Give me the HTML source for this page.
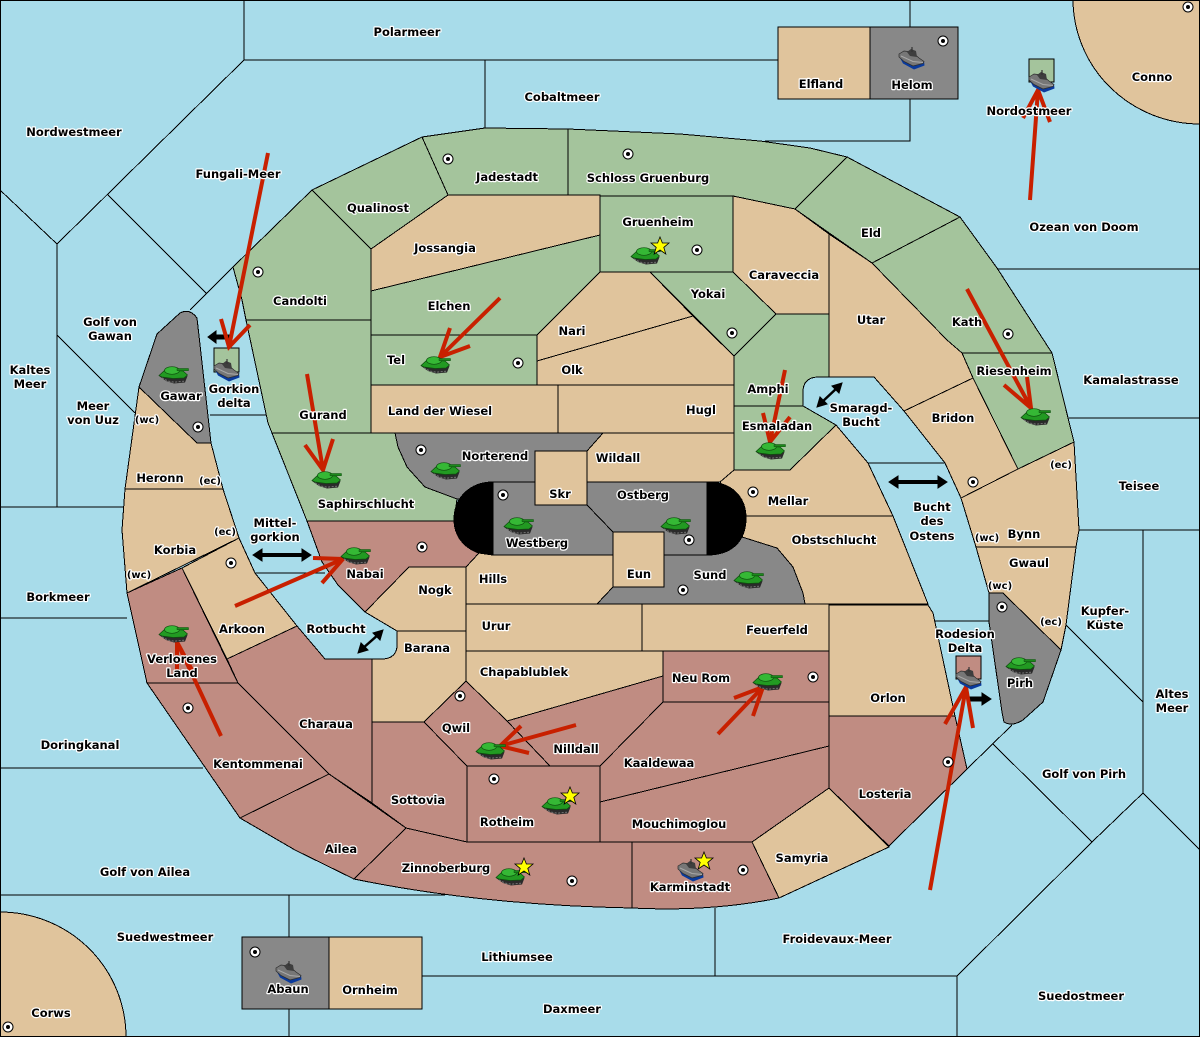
<!DOCTYPE html>
<html><head><meta charset="utf-8"><title>Map</title>
<style>
html,body{margin:0;padding:0;background:#a8dcea}
svg{display:block}
.l polygon,.l path{stroke:#000;stroke-width:1;stroke-linejoin:miter;shape-rendering:crispEdges}
.t{fill:#e0c49c}.g{fill:#a4c49c}.r{fill:#c08c82}.y{fill:#888}
.o line,.o polyline,.o path{stroke:#000;stroke-width:1;fill:none}
.a path{fill:none;stroke:#c82000;stroke-width:4}
text{font-family:"DejaVu Sans","Liberation Sans",sans-serif;font-weight:bold;font-size:11.5px;text-anchor:middle;fill:#000;stroke:#fff;stroke-width:2.4px;paint-order:stroke;stroke-linejoin:round}
.s{font-size:10px}
</style></head><body>
<svg xmlns="http://www.w3.org/2000/svg" width="1200" height="1037" viewBox="0 0 1200 1037">
<defs>
<g id="d"><circle r="5" fill="#fff" stroke="#000" stroke-width="1"/><circle r="2" fill="#000"/></g>
<g id="k">
<path d="M0 10L7 15L15 17.5L26 16.5L28.5 10L22 11L10 10Z" fill="#2a2a2a"/>
<path d="M0 9.5L6 4L24 5L28.5 9L25 12L14 12.5L3 11Z" fill="#229a22" stroke="#0e4e0e" stroke-width=".7"/>
<ellipse cx="13" cy="4.5" rx="7.5" ry="3.8" fill="#35b835" stroke="#0e4e0e" stroke-width=".7"/>
<path d="M18 2.5H29.5V4.7H18Z" fill="#1c8a1c" stroke="#0e4e0e" stroke-width=".5"/>
<path d="M3 12L9 15L15 16.2L25 15.2" stroke="#777" stroke-width="1" stroke-dasharray="2 1.5" fill="none"/>
</g>
<g id="h">
<path d="M0 9L4 16.5L15 22.5L25.5 18.5L25 14L14 18L5 13Z" fill="#0a3a9c"/>
<path d="M0 7L5 4L13 5L20 11L25 14.5L24 16.5L14 19L5 14.5L0 10Z" fill="#777" stroke="#2c2c2c" stroke-width=".7"/>
<path d="M8 5L12 2L17 4L18 10L11 9Z" fill="#3e3e3e"/>
<path d="M13 0V5" stroke="#333" stroke-width="1.2" fill="none"/>
<path d="M2 9L14 14.5L24 15.5" stroke="#a8a8a8" stroke-width="1" fill="none"/>
</g>
<polygon id="st" points="0,-9 2.4,-3 9,-3 3.8,1.4 5.8,8 0,4 -5.8,8 -3.8,1.4 -9,-3 -2.4,-3" fill="#ff0" stroke="#000" stroke-width=".8"/>
</defs>
<rect width="1200" height="1037" fill="#a8dcea"/>
<g class="o" shape-rendering="crispEdges">
<path d="M244 0V60L57 244L0 190M244 60H778M485 60V128M910 0V27M910 99V141H765"/>
<path d="M57 244V507M0 507H124M0 618H127M0 768H203M0 895H445M108 195L207 294M233 267L190 310M57 335L135 413"/>
<path d="M210 415H266M255 573H325M868 463H945M935 621H990"/>
<path d="M995 269H1200M1069 418H1200M1078 530H1200M1143 530V793M1066 625L1143 702M1143 793L1200 850M1143 793L1092 842L993 744M1092 842L957 976V1037M422 976H957M715 908V976M289 895V937M289 1009V1037"/>
<path d="M1012 725L967 769"/>
</g>
<g class="l">
<path class="t" d="M1200 0H1073A127 125 0 0 0 1200 124Z"/>
<path class="t" d="M0 1037V912A126 125 0 0 1 126 1037Z"/>
<polygon class="g" points="233,267 312,190 371,249 371,320 246,320 242,300"/>
<polygon class="g" points="246,320 371,320 371,433 272,433 268,423"/>
<polygon class="g" points="312,190 422,137 448,195 371,249"/>
<polygon class="g" points="422,137 485,128 568,129 568,195 448,195"/>
<polygon class="g" points="568,129 680,134 760,141 810,148 847,157 795,209 733,196 568,196"/>
<polygon class="g" points="847,157 960,217 872,263 795,209"/>
<polygon class="g" points="960,217 997,268 1052,353 962,353 947,340 872,263"/>
<polygon class="g" points="962,353 1052,353 1074,442 1018,469 973,378"/>
<polygon class="t" points="973,378 1018,469 961,498 945,463 904,411"/>
<polygon class="t" points="829,234 872,263 947,340 962,353 973,378 904,411 874,377 829,377"/>
<polygon class="t" points="733,196 795,209 829,234 829,314 776,314 733,272"/>
<polygon class="g" points="600,196 733,196 733,272 600,272"/>
<polygon class="t" points="448,195 600,195 600,235 371,291 371,249"/>
<polygon class="g" points="371,291 600,235 600,272 537,335 371,335"/>
<polygon class="g" points="371,335 537,335 537,385 371,385"/>
<polygon class="t" points="371,385 558,385 558,433 371,433"/>
<polygon class="t" points="558,385 734,385 734,433 558,433"/>
<polygon class="t" points="537,335 600,272 650,272 693,316 537,361"/>
<polygon class="t" points="537,361 693,316 734,356 734,385 537,385"/>
<polygon class="g" points="650,272 733,272 776,314 734,356"/>
<path class="g" d="M734 356L776 314H829V377H817Q803 378 803 392V406H734Z"/>
<polygon class="g" points="734,406 803,406 836,425 790,470 734,470"/>
<polygon class="t" points="734,470 790,470 836,425 868,463 893,516 745,516 720,482"/>
<polygon class="t" points="603,433 734,433 734,470 720,482 587,482 587,451"/>
<path class="y" d="M395 433H603L587 451H535V482H495V499H457L425 487L407 467L398 447Z"/>
<polygon class="g" points="272,433 395,433 398,447 407,467 425,487 457,499 454,521 307,521"/>
<polygon class="r" points="307,521 455,521 467,537 479,553 466,567 409,567 365,612 338,585 322,562"/>
<polygon class="y" points="493,482 535,482 535,505 587,505 613,532 613,555 493,555"/>
<polygon class="y" points="587,482 707,482 707,555 664,555 664,532 613,532 587,505"/>
<polygon class="t" points="535,451 587,451 587,505 535,505"/>
<polygon class="t" points="745,516 893,516 928,604 805,604 803,593 793,567 777,548 742,537"/>
<polygon class="y" points="664,555 707,555 728,550 742,537 777,548 793,567 803,593 805,604 597,604 613,587 664,587"/>
<path d="M493 482V555C470 555 454 540 454 519C454 498 470 482 493 482Z" fill="#000"/>
<path d="M707 482V555C735 555 746 538 746 518C746 498 733 482 707 482Z" fill="#000"/>
<polygon class="t" points="613,532 664,532 664,587 613,587"/>
<polygon class="t" points="479,553 493,555 613,555 613,587 597,604 466,604 466,567"/>
<polygon class="t" points="409,567 466,567 466,631 397,631 365,612"/>
<path class="t" d="M397 631H466V681L424 722H372V659H383Q397 658 397 645Z"/>
<polygon class="t" points="466,604 642,604 642,651 466,651"/>
<polygon class="t" points="642,604 829,604 829,651 642,651"/>
<polygon class="t" points="466,651 663,651 663,676 507,721 466,681"/>
<polygon class="r" points="663,651 829,651 829,702 663,702"/>
<polygon class="r" points="507,721 663,676 663,702 600,766 550,766"/>
<polygon class="r" points="466,681 507,721 550,766 467,766 424,722"/>
<polygon class="r" points="663,702 829,702 829,746 600,802 600,766"/>
<polygon class="r" points="600,802 829,746 829,788 752,842 600,842"/>
<polygon class="r" points="467,766 600,766 600,842 467,842"/>
<polygon class="r" points="372,722 424,722 467,766 467,842 406,828 372,803"/>
<polygon class="r" points="227,659 297,626 325,659 372,659 372,803 329,774 238,683"/>
<polygon class="t" points="182,568 239,538 255,573 297,626 227,659"/>
<polygon class="t" points="125,489 223,489 239,538 127,593 122,530"/>
<polygon class="t" points="139,387 197,443 211,443 223,489 125,489"/>
<path class="y" d="M139 387L157 334L180 313Q190 308 197 318L211 443H197Z"/>
<polygon class="r" points="127,593 182,568 238,683 147,683"/>
<polygon class="r" points="147,683 238,683 329,774 240,818"/>
<polygon class="r" points="240,818 329,774 406,828 354,879 295,850"/>
<path class="r" d="M406 828L467 842H632V908Q480 905 354 879Z"/>
<path class="r" d="M632 842H752L779 898Q710 912 632 908Z"/>
<polygon class="t" points="752,842 829,788 889,847 779,898"/>
<polygon class="r" points="829,716 955,716 967,769 889,846 829,788"/>
<polygon class="t" points="829,605 928,605 933,613 955,716 829,716"/>
<polygon class="t" points="961,498 1018,469 1074,442 1079,530 1076,547 976,547"/>
<polygon class="t" points="976,547 1076,547 1066,625 1061,650 1003,593 989,593"/>
<path class="y" d="M989 593H1003L1061 650L1043 702L1023 720Q1012 727 1004 722L1002 712L989 622Z"/>
<polygon class="t" points="778,27 870,27 870,99 778,99"/>
<polygon class="y" points="870,27 958,27 958,99 870,99"/>
<polygon class="y" points="242,937 329,937 329,1009 242,1009"/>
<polygon class="t" points="329,937 422,937 422,1009 329,1009"/>
<polygon class="g" points="214,348 239,348 239,372 214,372"/>
<polygon class="g" points="1029,59 1054,59 1054,82 1029,82"/>
<polygon class="r" points="956,656 981,656 981,679 956,679"/>
</g>
<rect x=".5" y=".5" width="1199" height="1036" fill="none" stroke="#000"/>
<g fill="#000" stroke="#000">
<path d="M214 337H232" stroke-width="5"/><polygon points="208,337 216,331 216,343"/>
<path d="M260 555H304" stroke-width="4"/><polygon points="253,555 262,549 262,561"/><polygon points="311,555 302,549 302,561"/>
<path d="M896 482H940" stroke-width="4"/><polygon points="889,482 898,476 898,488"/><polygon points="947,482 938,476 938,488"/>
<path d="M967 699H984" stroke-width="5"/><polygon points="991,699 982,693 982,705"/>
<path d="M362 649L379 634" stroke-width="2.5"/><polygon points="358,653 361,643 368,650"/><polygon points="383,630 380,640 373,633"/>
<path d="M821 403L838 387" stroke-width="2.5"/><polygon points="817,407 820,397 827,404"/><polygon points="842,383 839,393 832,386"/>
</g>
<g class="a">
<path d="M268 153L229 347M221 319L229 347L250 325"/>
<path d="M500 298L440 357M450 328L440 357L470 346"/>
<path d="M307 374L323 470M305 445L323 470L333 439"/>
<path d="M785 370L770 442M763 413L770 442L790 417"/>
<path d="M967 289L1031 408M1004 385L1031 408L1027 377"/>
<path d="M1030 200L1038 90M1023 118L1038 90L1050 122"/>
<path d="M235 606L343 559M313 558L343 559L322 583"/>
<path d="M221 736L177 642M177 670L177 642L192 670"/>
<path d="M576 725L500 746M521 726L500 746L529 753"/>
<path d="M718 734L763 687M734 698L763 687L753 716"/>
<path d="M930 890L966 687M945 724L966 687L973 728"/>
</g>
<g>
<use href="#k" x="159" y="366"/><use href="#k" x="312" y="471"/><use href="#k" x="421" y="356"/><use href="#k" x="431" y="462"/><use href="#k" x="504" y="517"/><use href="#k" x="661" y="517"/><use href="#k" x="734" y="571"/><use href="#k" x="631" y="247"/><use href="#k" x="756" y="442"/><use href="#k" x="1021" y="408"/><use href="#k" x="1006" y="657"/><use href="#k" x="753" y="673"/><use href="#k" x="476" y="742"/><use href="#k" x="542" y="797"/><use href="#k" x="496" y="868"/><use href="#k" x="341" y="547"/><use href="#k" x="159" y="625"/>
<use href="#h" x="899" y="47"/><use href="#h" x="1029" y="70"/><use href="#h" x="214" y="359"/><use href="#h" x="956" y="667"/><use href="#h" x="276" y="961"/><use href="#h" x="678" y="859"/>
<use href="#st" x="660" y="246"/><use href="#st" x="570" y="796"/><use href="#st" x="524" y="867"/><use href="#st" x="704" y="861"/>
<use href="#d" x="448" y="159"/><use href="#d" x="628" y="154"/><use href="#d" x="258" y="272"/><use href="#d" x="697" y="250"/><use href="#d" x="732" y="333"/><use href="#d" x="518" y="363"/><use href="#d" x="1008" y="334"/><use href="#d" x="973" y="482"/><use href="#d" x="421" y="450"/><use href="#d" x="503" y="495"/><use href="#d" x="753" y="492"/><use href="#d" x="689" y="540"/><use href="#d" x="683" y="590"/><use href="#d" x="422" y="547"/><use href="#d" x="231" y="563"/><use href="#d" x="198" y="427"/><use href="#d" x="188" y="708"/><use href="#d" x="460" y="696"/><use href="#d" x="813" y="677"/><use href="#d" x="494" y="779"/><use href="#d" x="572" y="881"/><use href="#d" x="743" y="870"/><use href="#d" x="1002" y="607"/><use href="#d" x="948" y="762"/><use href="#d" x="255" y="952"/><use href="#d" x="8" y="1027"/><use href="#d" x="943" y="41"/><use href="#d" x="1188" y="7"/>
</g>
<g>
<text x="407" y="36">Polarmeer</text><text x="562" y="101">Cobaltmeer</text><text x="74" y="136">Nordwestmeer</text><text x="238" y="178">Fungali-Meer</text><text x="378" y="212">Qualinost</text><text x="507" y="181">Jadestadt</text><text x="648" y="182">Schloss Gruenburg</text><text x="658" y="226">Gruenheim</text><text x="821" y="88">Elfland</text><text x="912" y="89">Helom</text><text x="1152" y="81">Conno</text><text x="1029" y="115">Nordostmeer</text><text x="1084" y="231">Ozean von Doom</text><text x="871" y="237">Eld</text><text x="784" y="279">Caraveccia</text><text x="445" y="252">Jossangia</text><text x="708" y="298">Yokai</text><text x="300" y="305">Candolti</text><text x="449" y="310">Elchen</text><text x="572" y="335">Nari</text><text x="871" y="324">Utar</text><text x="967" y="326">Kath</text>
<text x="110" y="326">Golf von</text><text x="110" y="340">Gawan</text><text x="30" y="374">Kaltes</text><text x="30" y="388">Meer</text><text x="396" y="364">Tel</text><text x="572" y="374">Olk</text><text x="768" y="393">Amphi</text><text x="1014" y="375">Riesenheim</text><text x="1131" y="384">Kamalastrasse</text><text x="93" y="410">Meer</text><text x="93" y="424">von Uuz</text><text x="234" y="393">Gorkion</text><text x="234" y="407">delta</text><text x="181" y="400">Gawar</text><text class="s" x="147" y="423">(wc)</text><text x="440" y="415">Land der Wiesel</text><text x="701" y="414">Hugl</text><text x="323" y="419">Gurand</text><text x="861" y="412">Smaragd-</text><text x="861" y="426">Bucht</text><text x="953" y="422">Bridon</text><text x="777" y="430">Esmaladan</text><text x="1139" y="490">Teisee</text><text x="495" y="460">Norterend</text><text x="618" y="462">Wildall</text><text class="s" x="1061" y="468">(ec)</text><text x="160" y="482">Heronn</text><text class="s" x="210" y="484">(ec)</text><text x="932" y="511">Bucht</text><text x="932" y="525">des</text><text x="932" y="540">Ostens</text><text x="560" y="498">Skr</text><text x="643" y="499">Ostberg</text><text x="788" y="505">Mellar</text><text x="366" y="508">Saphirschlucht</text><text x="275" y="527">Mittel-</text><text x="275" y="541">gorkion</text><text x="175" y="554">Korbia</text><text class="s" x="225" y="535">(ec)</text><text x="537" y="547">Westberg</text><text x="834" y="544">Obstschlucht</text><text x="1024" y="538">Bynn</text><text class="s" x="987" y="541">(wc)</text><text x="1029" y="567">Gwaul</text><text x="493" y="583">Hills</text><text x="639" y="578">Eun</text><text x="710" y="579">Sund</text><text x="365" y="578">Nabai</text><text class="s" x="139" y="578">(wc)</text><text x="435" y="594">Nogk</text><text class="s" x="1000" y="589">(wc)</text><text x="58" y="601">Borkmeer</text><text x="1105" y="615">Kupfer-</text><text x="1105" y="629">Küste</text><text x="496" y="630">Urur</text><text x="777" y="634">Feuerfeld</text><text x="242" y="633">Arkoon</text><text x="336" y="633">Rotbucht</text><text class="s" x="1051" y="625">(ec)</text><text x="965" y="638">Rodesion</text><text x="965" y="652">Delta</text><text x="427" y="652">Barana</text><text x="182" y="663">Verlorenes</text><text x="182" y="677">Land</text><text x="524" y="676">Chapablublek</text><text x="701" y="682">Neu Rom</text><text x="1020" y="687">Pirh</text><text x="1172" y="698">Altes</text><text x="1172" y="712">Meer</text><text x="888" y="702">Orlon</text><text x="326" y="728">Charaua</text><text x="456" y="732">Qwil</text><text x="80" y="749">Doringkanal</text><text x="576" y="753">Nilldall</text><text x="258" y="768">Kentommenai</text><text x="659" y="767">Kaaldewaa</text><text x="1084" y="778">Golf von Pirh</text><text x="885" y="798">Losteria</text><text x="418" y="804">Sottovia</text><text x="507" y="826">Rotheim</text><text x="679" y="828">Mouchimoglou</text><text x="341" y="853">Ailea</text><text x="802" y="862">Samyria</text><text x="446" y="872">Zinnoberburg</text><text x="145" y="876">Golf von Ailea</text><text x="690" y="891">Karminstadt</text><text x="165" y="941">Suedwestmeer</text><text x="837" y="943">Froidevaux-Meer</text><text x="517" y="961">Lithiumsee</text><text x="288" y="993">Abaun</text><text x="370" y="994">Ornheim</text><text x="1081" y="1000">Suedostmeer</text><text x="572" y="1013">Daxmeer</text><text x="51" y="1017">Corws</text>
</g>
</svg>
</body></html>
